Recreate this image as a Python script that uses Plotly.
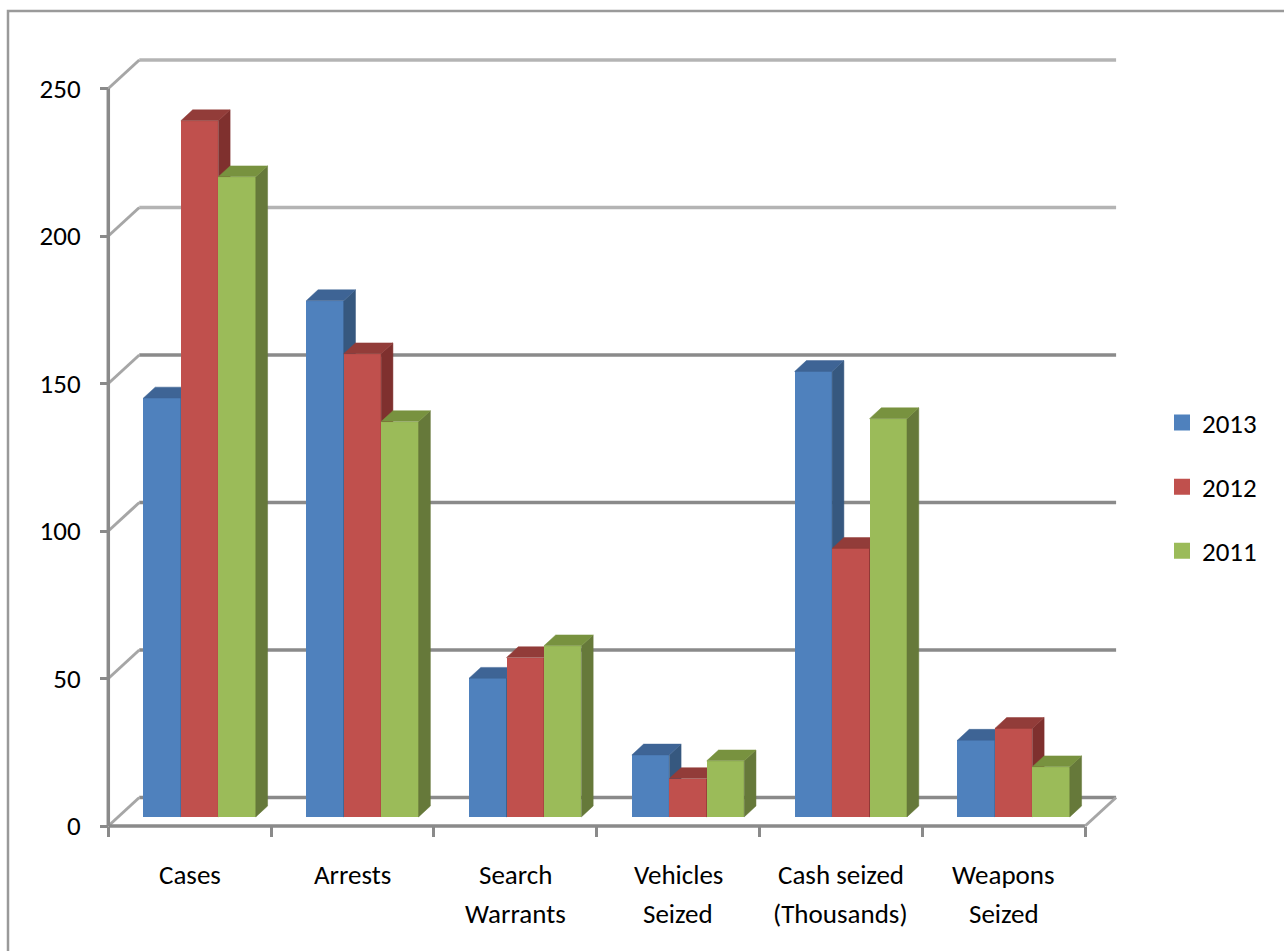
import plotly.graph_objects as go

# ---------------- data ----------------
categories = ["Cases", "Arrests", "Search\nWarrants", "Vehicles\nSeized",
              "Cash seized\n(Thousands)", "Weapons\nSeized"]
series_names = ["2013", "2012", "2011"]
values_2013 = [142, 175, 47, 21, 151, 26]
values_2012 = [236, 157, 54, 13, 91, 30]
values_2011 = [217, 134, 58, 19, 135, 17]
y_ticks = [0, 50, 100, 150, 200, 250]

series_values = [values_2013, values_2012, values_2011]
front_colors = ["#4F81BD", "#C0504D", "#9BBB59"]
side_colors = ["#36587F", "#7F302E", "#66793A"]
top_colors = ["#3E6495", "#923C39", "#78923F"]

FONT = "Carlito, Calibri, Lato, sans-serif"
FS = 27

# ---------------- geometry (pixel layout of the page) ----------------
W, H = 1284, 951
PL, PR, PT, PB = 96, 1140, 40, 845          # plot area in pixels
PX_X = 162.8                                 # pixels per category
PX_Y = 2.95                                  # pixels per value unit
X_C0 = 189.7                                 # pixel x of first category centre (front plane)
Y_0 = 826                                    # pixel y of value 0 (front plane)

x_range = [(PL - X_C0) / PX_X, (PR - X_C0) / PX_X]
y_range = [(Y_0 - PB) / PX_Y, (Y_0 - PT) / PX_Y]

DX = 31 / PX_X      # full depth offset (x units)
DY = 28.5 / PX_Y    # full depth offset (y units)
F0 = 0.32           # depth of bar front plane
T = 0.38            # bar depth
BW = 0.23           # bar width

n = len(categories)
ncat_lo, ncat_hi = -0.5, n - 0.5

fig = go.Figure()

axis_names = [("x", "y"), ("x2", "y2"), ("x3", "y3")]
for k, (vals, name) in enumerate(zip(series_values, series_names)):
    xa, ya = axis_names[k]
    base = F0 * DY
    centers = [i + F0 * DX + (k - 1) * BW for i in range(n)]
    fig.add_trace(go.Bar(
        x=centers, y=vals, base=[base] * n, width=[BW] * n,
        marker=dict(color=front_colors[k], line=dict(width=0)),
        name=name, showlegend=False, xaxis=xa, yaxis=ya,
        hoverinfo="skip"))
    sx, sy, tx, ty = [], [], [], []
    for c, v in zip(centers, vals):
        xl, xr = c - BW / 2, c + BW / 2
        top = base + v
        sx += [xr, xr + T * DX, xr + T * DX, xr, xr, None]
        sy += [base, base + T * DY, top + T * DY, top, base, None]
        tx += [xl, xr, xr + T * DX, xl + T * DX, xl, None]
        ty += [top, top, top + T * DY, top + T * DY, top, None]
    fig.add_trace(go.Scatter(
        x=sx, y=sy, mode="lines", fill="toself", fillcolor=side_colors[k],
        line=dict(color=side_colors[k], width=0.5), showlegend=False,
        xaxis=xa, yaxis=ya, hoverinfo="skip"))
    fig.add_trace(go.Scatter(
        x=tx, y=ty, mode="lines", fill="toself", fillcolor=top_colors[k],
        line=dict(color=top_colors[k], width=0.5), showlegend=False,
        xaxis=xa, yaxis=ya, hoverinfo="skip"))

# legend entries
for k, name in enumerate(series_names):
    fig.add_trace(go.Scatter(
        x=[None], y=[None], mode="markers", name=name, legendgroup=name,
        marker=dict(symbol="square", size=16, color=front_colors[k])))

shapes = []
for v in y_ticks:
    col = "#b4b4b4" if v >= 200 else "#8a8a8a"
    shapes.append(dict(type="line", xref="x", yref="y", layer="below",
                       x0=ncat_lo + DX, x1=ncat_hi + DX, y0=v + DY, y1=v + DY,
                       line=dict(color=col, width=3.5)))
    shapes.append(dict(type="line", xref="x", yref="y", layer="below",
                       x0=ncat_lo, x1=ncat_lo + DX, y0=v, y1=v + DY,
                       line=dict(color="#a6a6a6", width=3)))
shapes.append(dict(type="line", xref="x", yref="y", layer="below",
                   x0=ncat_lo, x1=ncat_hi, y0=0, y1=0,
                   line=dict(color="#8a8a8a", width=3.5)))
shapes.append(dict(type="line", xref="x", yref="y", layer="below",
                   x0=ncat_hi, x1=ncat_hi + DX, y0=0, y1=DY,
                   line=dict(color="#a6a6a6", width=3)))
shapes.append(dict(type="line", xref="x", yref="y", layer="below",
                   x0=ncat_lo, x1=ncat_lo, y0=0, y1=max(y_ticks),
                   line=dict(color="#8a8a8a", width=3.5)))
pw, ph = PR - PL, PB - PT
shapes.append(dict(type="rect", xref="paper", yref="paper",
                   x0=(8 - PL) / pw, x1=1.4, y0=-0.3, y1=(PB - 11) / ph,
                   line=dict(color="#9a9a9a", width=2.5), fillcolor="rgba(0,0,0,0)"))

annotations = []
for i, lab in enumerate(categories):
    for j, line in enumerate(lab.split("\n")):
        annotations.append(dict(
            x=i, xref="x", y=0, yref="paper", yanchor="middle", xanchor="center",
            yshift=-(874 + 39 * j - PB), text=line, showarrow=False,
            font=dict(family=FONT, size=FS, color="#000000")))

fig.update_layout(
    width=W, height=H,
    margin=dict(l=PL, r=W - PR, t=PT, b=H - PB, pad=0),
    paper_bgcolor="white", plot_bgcolor="rgba(0,0,0,0)",
    font=dict(family=FONT, size=FS, color="#000000"),
    barmode="overlay", bargap=0,
    shapes=shapes, annotations=annotations,
    legend=dict(x=(1162 - PL) / pw, xanchor="left", y=(PB - 487) / ph, yanchor="middle",
                traceorder="grouped", tracegroupgap=26, itemsizing="trace",
                font=dict(family=FONT, size=FS, color="#000000"),
                bgcolor="rgba(0,0,0,0)"),
    xaxis=dict(range=x_range, anchor="free", position=(PB - Y_0) / ph,
               tickmode="array", tickvals=[i - 0.5 for i in range(n + 1)],
               ticks="outside", ticklen=10, tickwidth=3, tickcolor="#8a8a8a",
               showticklabels=False, showgrid=False, zeroline=False, showline=False,
               fixedrange=True),
    yaxis=dict(range=y_range, anchor="free", position=(108 - PL) / pw,
               tickmode="array", tickvals=y_ticks,
               ticks="outside", ticklen=8, tickwidth=3, tickcolor="#8a8a8a",
               ticklabelstandoff=14,
               tickfont=dict(family=FONT, size=FS, color="#000000"),
               showgrid=False, zeroline=False, showline=False, fixedrange=True),
)
for k in (2, 3):
    fig.update_layout(**{
        f"xaxis{k}": dict(range=x_range, overlaying="x", anchor=f"y{k}", visible=False,
                          fixedrange=True),
        f"yaxis{k}": dict(range=y_range, overlaying="y", anchor=f"x{k}", visible=False,
                          fixedrange=True),
    })

fig.write_html("out.html", post_script="document.body.style.margin='0px';",
               config={"displayModeBar": False})
